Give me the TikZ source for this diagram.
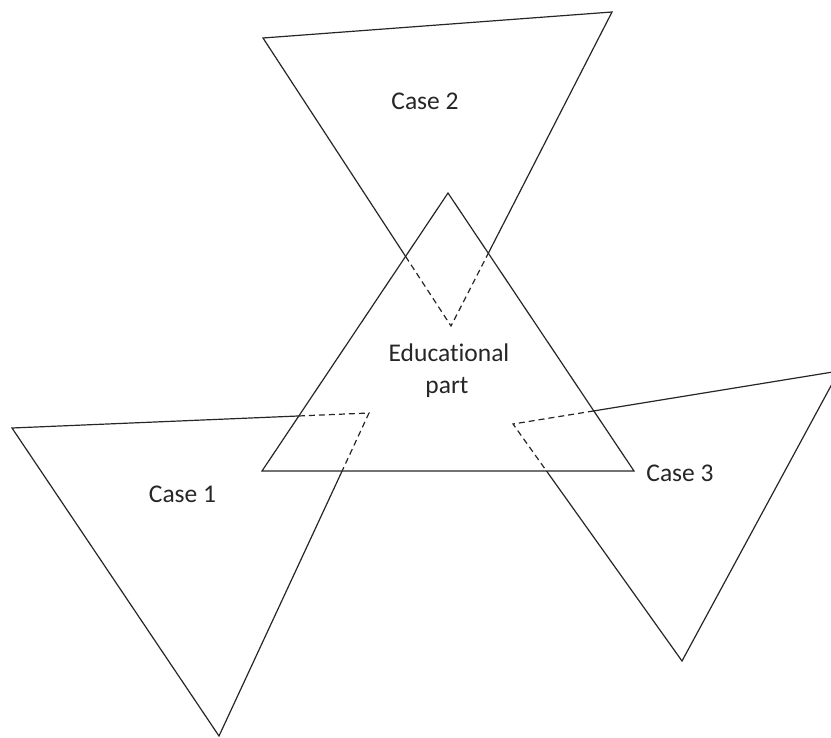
\documentclass[tikz,border=0pt]{standalone}
\usepackage{fontspec}
\setmainfont{Carlito}[RawFeature={-liga;-clig}]
\begin{document}
\begin{tikzpicture}[x=1bp,y=-1bp,
  edge/.style={draw=black!85, line width=1.2bp, line join=miter},
  hidden/.style={draw=black!85, line width=1.2bp, dash pattern=on 6bp off 4bp},
  lbl/.style={inner sep=0pt, anchor=base, text=black!85, font=\fontsize{25.5bp}{30bp}\selectfont}]
\useasboundingbox (0,0) rectangle (831,738);
\clip (0,0) rectangle (831,738);
% central triangle
\coordinate (E1) at (448,193);
\coordinate (E2) at (262,471);
\coordinate (E3) at (634,471);
% case 2
\coordinate (A1) at (263,38);
\coordinate (A2) at (612,12);
\coordinate (A3) at (451,326);
% case 1
\coordinate (B1) at (12,428);
\coordinate (B2) at (369,413);
\coordinate (B3) at (219,736);
% case 3
\coordinate (C1) at (513,424);
\coordinate (C2) at (839,371);
\coordinate (C3) at (682,661);
% crossings
\coordinate (XA1) at (intersection of A1--A3 and E1--E2);
\coordinate (XA2) at (intersection of A2--A3 and E1--E3);
\coordinate (XB1) at (intersection of B1--B2 and E1--E2);
\coordinate (XB2) at (intersection of B2--B3 and E2--E3);
\coordinate (XC1) at (intersection of C1--C2 and E1--E3);
\coordinate (XC2) at (intersection of C1--C3 and E2--E3);
% central
\draw[edge] (E1) -- (E2) -- (E3) -- cycle;
% case 2
\draw[edge] (XA1) -- (A1) -- (A2) -- (XA2);
\draw[hidden] (XA1) -- (A3) -- (XA2);
% case 1
\draw[edge] (XB1) -- (B1) -- (B3) -- (XB2);
\draw[hidden] (XB1) -- (B2) -- (XB2);
% case 3
\draw[edge] (XC1) -- (C2) -- (C3) -- (XC2);
\draw[hidden] (XC1) -- (C1) -- (XC2);
% labels
\node[lbl] (t2) at (425,109) {Case 2};
\node[lbl] (t0a) at (449,361) {Educational};
\node[lbl] (t0b) at (447,393) {part};
\node[lbl] (t1) at (182.5,502.7) {Case 1};
\node[lbl] (t3) at (680,481.7) {Case 3};
\end{tikzpicture}
\end{document}
